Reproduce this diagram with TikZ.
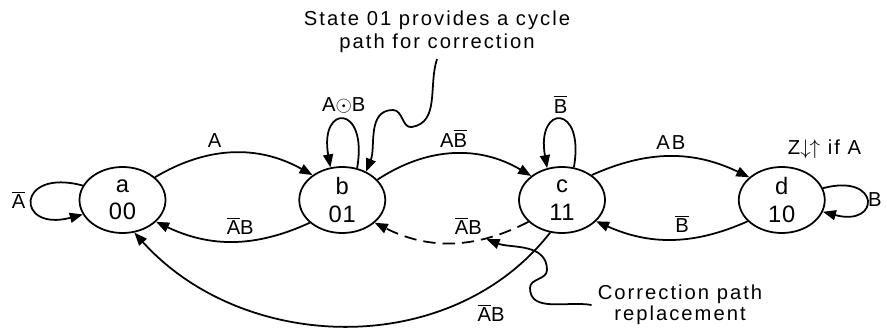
\documentclass[tikz,border=0pt]{standalone}
\usepackage{fontspec}
\setmainfont{Liberation Sans}[LetterSpace=10]
\usepackage{tikz}
\usetikzlibrary{arrows.meta, positioning, shapes.geometric}
\newcommand{\nt}[1]{$\overline{\mbox{#1}}$}

\begin{document}
\begin{tikzpicture}[
    node distance=12mm and 26.4mm,
    state/.style={draw, ellipse, line width=1pt, minimum width=17.2mm, minimum height=13.2mm,
                  inner sep=0pt, align=center,
                  font=\fontsize{13.5}{15.5}\selectfont\addfontfeature{LetterSpace=3}},
    arr/.style={-{Triangle[length=2.6mm, width=2mm]}, line width=1pt},
    lbl/.style={font=\fontsize{11.5}{13}\selectfont},
    note/.style={font=\fontsize{11.5}{13}\selectfont, align=center},
]
\useasboundingbox (0,0) rectangle (17.74,-6.58);

% States
\node[state]              (a) at (2.45,-4.0) {a\\00};
\node[state, right=of a]  (b) {b\\01};
\node[state, right=of b]  (c) {c\\11};
\node[state, right=of c]  (d) {d\\10};

% Output and notes
\node[lbl, above right=0.3mm and 0mm of d.north] (zout) {Z$\downarrow\mkern-1mu\uparrow$ if A};
\node[note] (note1) at (8.74,-0.64) {State 01 provides a cycle\\path for correction};
\node[note, font=\fontsize{11.5}{9.8}\selectfont] (note2) at (13.6,-6.1) {Correction path\\replacement};

% Forward transitions
\draw[arr] (a.35)  to[bend left=30] node[lbl, above, pos=0.38] {A}        (b.140);
\draw[arr] (b.30)  to[bend left=32] node[lbl, above]           {A\nt{B}}  (c.142);
\draw[arr] (c.40)  to[bend left=25] node[lbl, above]           {AB}       (d.145);

% Return transitions
\draw[arr] (b.215) to[bend left=25] node[lbl, above, pos=0.45] {\nt{A}B}  (a.-33);
\draw[arr] (d.212) to[bend left=24] node[lbl, above, pos=0.43] {\nt{B}}   (c.-32);
\draw[arr, dash pattern=on 7pt off 4pt]
           (c.213) to[bend left=27] node[lbl, above, pos=0.39] {\nt{A}B}
                    coordinate[pos=0.28] (cfix) (b.-35);
\draw[arr] (c.250) to[out=-128, in=-48] node[lbl, below right, pos=0.22] {\nt{A}B} (a.-70);

% Self loops
\draw[arr] (a.160) .. controls +(165:1.4) and +(195:1.4) .. node[lbl, left]  {\nt{A}}        (a.200);
\draw[arr] (b.65)  .. controls +(80:1.3)  and +(100:1.3) .. node[lbl, above] {A$\odot$B}     (b.110);
\draw[arr] (c.70)  .. controls +(80:1.3)  and +(100:1.3) .. node[lbl, above] {\nt{B}}        (c.115);
\draw[arr] (d.16)  .. controls +(15:1.2)  and +(-15:1.2) .. node[lbl, right, inner sep=0.5pt] {B} (d.-16);

% Note pointers
\draw[arr] (note1.south) to[out=-108, in=10] (8.24,-2.54) to[out=190, in=0] (7.86,-2.2)
           to[out=180, in=68] (b.50);
\draw[arr, shorten >=1pt] (note2.west) to[out=170, in=-90] (10.6,-5.76) to[out=90, in=-90] (10.94,-5.4)
           to[out=90, in=-21] (cfix);
\end{tikzpicture}
\end{document}
